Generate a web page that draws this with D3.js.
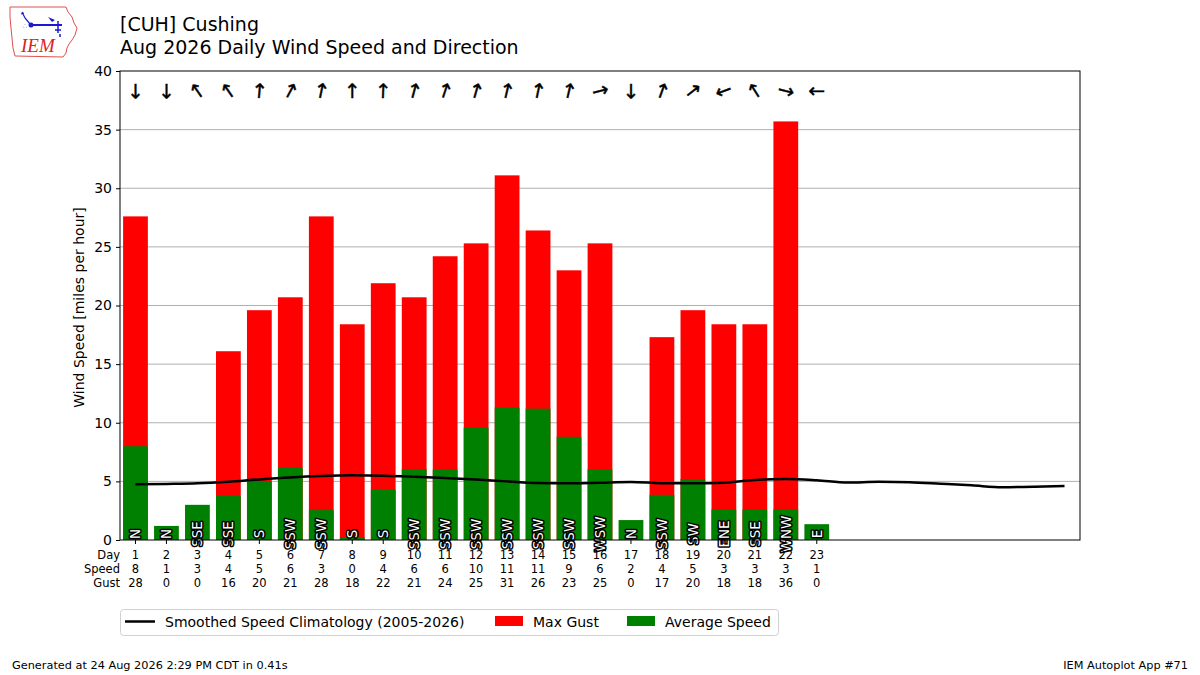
<!DOCTYPE html>
<html>
<head>
<meta charset="utf-8">
<script src="https://cdn.jsdelivr.net/npm/d3@7"></script>
<style>
  body { margin: 0; background: #fff; }
  svg { font-family: "DejaVu Sans", sans-serif; }
</style>
</head>
<body>
<svg id="chart" width="1200" height="675"></svg>
<script>
// Daily values
const days = [1, 2, 3, 4, 5, 6, 7, 8, 9, 10, 11, 12, 13, 14, 15, 16, 17, 18, 19, 20, 21, 22, 23];
const avgSpeed = [8.0, 1.2, 3.0, 3.75, 5.0, 6.15, 2.55, 0.25, 4.3, 6.05, 6.0, 9.6, 11.3, 11.2, 8.8, 6.05, 1.7, 3.85, 5.2, 2.6, 2.6, 2.6, 1.35];
const maxGust = [27.6, 0, 0, 16.1, 19.6, 20.7, 27.6, 18.4, 21.9, 20.7, 24.2, 25.3, 31.1, 26.4, 23.0, 25.3, 0, 17.3, 19.6, 18.4, 18.4, 35.7, 0];
const dirLabels = ['N', 'N', 'SSE', 'SSE', 'S', 'SSW', 'SSW', 'S', 'S', 'SSW', 'SSW', 'SSW', 'SSW', 'SSW', 'SSW', 'WSW', 'N', 'SSW', 'SW', 'ENE', 'SSE', 'WNW', 'E'];
const dirDegrees = [0, 0, 145, 145, 185, 208, 192, 180, 182, 195, 198, 196, 193, 192, 193, 256, 0, 200, 232, 70, 148, 284, 90];

// smoothed climatology, one value per day of month
const climoDays = d3.range(1, 32);
const climoSpeed = [4.75, 4.78, 4.83, 4.97, 5.17, 5.34, 5.46, 5.52, 5.49, 5.4, 5.29, 5.15, 5.0, 4.86, 4.83, 4.89, 4.95, 4.85, 4.84, 4.89, 5.12, 5.2, 5.09, 4.9, 4.97, 4.93, 4.8, 4.66, 4.5, 4.55, 4.6];

const yTicks = [0, 5, 10, 15, 20, 25, 30, 35, 40];
const tableRows = ['Day', 'Speed', 'Gust'];

const svg = d3.select('#chart');
const margin = { top: 71, right: 120, bottom: 135, left: 120 };
const width = 1200, height = 675;
const plotW = width - margin.left - margin.right;
const plotH = height - margin.top - margin.bottom;

const x = d3.scaleLinear().domain([0.5, 31.5]).range([margin.left, margin.left + plotW]);
const y = d3.scaleLinear().domain([0, 40]).range([margin.top + plotH, margin.top]);
const barW = (x(1) - x(0)) * 0.8;

// IEM logo (rough)
const logo = svg.append('g');
logo.append('path')
  .attr('d', 'M10,7 L66,7 L68,12 L72,17 L74,23 L77,28 L75,35 L72,40 L69,44 L67,48 L66,53 L63,57 L15,56 L13,48 L12,38 L11,28 L10,17 Z')
  .attr('fill', 'none').attr('stroke', '#e05050').attr('stroke-width', 1);
logo.append('line').attr('x1', 31).attr('y1', 25).attr('x2', 62).attr('y2', 25).attr('stroke', '#1a1acc').attr('stroke-width', 2);
logo.append('circle').attr('cx', 31).attr('cy', 25).attr('r', 2.5).attr('fill', '#1a1acc');
logo.append('path').attr('d', 'M22,12 L25,18 L30,24 M21,14 L24,13').attr('fill', 'none').attr('stroke', '#1a1acc').attr('stroke-width', 1.2);
logo.append('path').attr('d', 'M48,17 L55,20 L52,22 Z').attr('fill', '#1a1acc');
logo.append('path').attr('d', 'M58,21 L58,33 M55,30 L61,30 M60,34 L60,37').attr('fill', 'none').attr('stroke', '#1a1acc').attr('stroke-width', 1.5);
logo.append('text').attr('x', 23).attr('y', 28).attr('font-size', 6).attr('fill', '#1a1acc').text('∴');
logo.append('text').attr('x', 21).attr('y', 52)
  .attr('font-family', '"Liberation Serif", serif').attr('font-style', 'italic')
  .attr('font-size', 19).attr('fill', '#dd2222').text('IEM');

// Title
svg.append('text').attr('x', 120).attr('y', 31).attr('font-size', 19).attr('fill', '#000').text('[CUH] Cushing');
svg.append('text').attr('x', 120).attr('y', 54).attr('font-size', 19).attr('fill', '#000').text('Aug 2026 Daily Wind Speed and Direction');

// Grid
svg.append('g').selectAll('line').data(yTicks.filter(t => t > 0 && t < 40)).join('line')
  .attr('x1', margin.left).attr('x2', margin.left + plotW)
  .attr('y1', d => y(d)).attr('y2', d => y(d))
  .attr('stroke', '#b0b0b0').attr('stroke-width', 1);

// Bars: gust behind, average speed on top
svg.append('g').selectAll('rect').data(days).join('rect')
  .attr('x', d => x(d) - barW / 2).attr('width', barW)
  .attr('y', (d, i) => y(maxGust[i])).attr('height', (d, i) => y(0) - y(maxGust[i]))
  .attr('fill', '#ff0000');
svg.append('g').selectAll('rect').data(days).join('rect')
  .attr('x', d => x(d) - barW / 2).attr('width', barW)
  .attr('y', (d, i) => y(avgSpeed[i])).attr('height', (d, i) => y(0) - y(avgSpeed[i]))
  .attr('fill', '#008000');

// Climatology line
const line = d3.line().x(d => x(d[0])).y(d => y(d[1])).curve(d3.curveMonotoneX);
svg.append('path')
  .datum(climoDays.map((d, i) => [d, climoSpeed[i]]))
  .attr('d', line).attr('fill', 'none').attr('stroke', '#000').attr('stroke-width', 2.5);

// Direction labels in the bars
svg.append('g').selectAll('text').data(days).join('text')
  .attr('transform', d => `translate(${x(d)},${y(0) - 6}) rotate(-90)`)
  .attr('text-anchor', 'middle').attr('dominant-baseline', 'central')
  .attr('font-size', 13.5).attr('fill', '#fff')
  .attr('stroke', '#000').attr('stroke-width', 3).attr('stroke-linejoin', 'round').attr('paint-order', 'stroke')
  .text((d, i) => dirLabels[i]);

// Direction arrows along the top
svg.append('g').selectAll('text').data(days).join('text')
  .attr('transform', (d, i) => `translate(${x(d)},${91}) rotate(${dirDegrees[i] + 180})`)
  .attr('text-anchor', 'middle').attr('dominant-baseline', 'central')
  .attr('font-size', 20).attr('fill', '#000').attr('stroke', '#000').attr('stroke-width', 0.4)
  .text('↑');

// Axes frame
svg.append('rect').attr('x', margin.left).attr('y', margin.top).attr('width', plotW).attr('height', plotH)
  .attr('fill', 'none').attr('stroke', '#000').attr('stroke-width', 1);

const yAxis = svg.append('g').attr('transform', `translate(${margin.left},0)`)
  .call(d3.axisLeft(y).tickValues(yTicks).tickSize(4).tickPadding(4));
yAxis.select('.domain').remove();
yAxis.selectAll('text').attr('font-size', 14).attr('font-family', '"DejaVu Sans", sans-serif').attr('fill', '#000');
yAxis.selectAll('.tick line').attr('stroke', '#000');

svg.append('text')
  .attr('transform', `translate(84,${margin.top + plotH / 2 + 2}) rotate(-90)`)
  .attr('text-anchor', 'middle').attr('font-size', 14).attr('fill', '#000')
  .text('Wind Speed [miles per hour]');

// x ticks at each day with data
svg.append('g').selectAll('line').data(days).join('line')
  .attr('x1', d => x(d)).attr('x2', d => x(d))
  .attr('y1', y(0)).attr('y2', y(0) + 4).attr('stroke', '#000');

// Table of values under the axis
const rowY = [559, 573, 587];
const rowVals = [days, avgSpeed.map(v => Math.round(v)), maxGust.map(v => Math.round(v))];
tableRows.forEach((r, k) => {
  svg.append('text').attr('x', 120).attr('y', rowY[k]).attr('text-anchor', 'end')
    .attr('font-size', 11.5).attr('fill', '#000').text(r);
  svg.append('g').selectAll('text').data(days).join('text')
    .attr('x', d => x(d)).attr('y', rowY[k]).attr('text-anchor', 'middle')
    .attr('font-size', 11.5).attr('fill', '#000')
    .text((d, i) => rowVals[k][i]);
});

// Legend
const lg = svg.append('g');
lg.append('rect').attr('x', 120.5).attr('y', 609.5).attr('width', 658).attr('height', 26).attr('rx', 3)
  .attr('fill', '#fff').attr('stroke', '#d0d0d0');
lg.append('line').attr('x1', 125).attr('x2', 155).attr('y1', 621.5).attr('y2', 621.5).attr('stroke', '#000').attr('stroke-width', 2.5);
lg.append('text').attr('x', 165).attr('y', 626.5).attr('font-size', 14).text('Smoothed Speed Climatology (2005-2026)');
lg.append('rect').attr('x', 495).attr('y', 616).attr('width', 28).attr('height', 10).attr('fill', '#ff0000');
lg.append('text').attr('x', 533).attr('y', 626.5).attr('font-size', 14).text('Max Gust');
lg.append('rect').attr('x', 627).attr('y', 616).attr('width', 28).attr('height', 10).attr('fill', '#008000');
lg.append('text').attr('x', 665).attr('y', 626.5).attr('font-size', 14).text('Average Speed');

// Footer
svg.append('text').attr('x', 12).attr('y', 669).attr('font-size', 11.3).text('Generated at 24 Aug 2026 2:29 PM CDT in 0.41s');
svg.append('text').attr('x', 1188).attr('y', 669).attr('text-anchor', 'end').attr('font-size', 11.3).text('IEM Autoplot App #71');
</script>
</body>
</html>
